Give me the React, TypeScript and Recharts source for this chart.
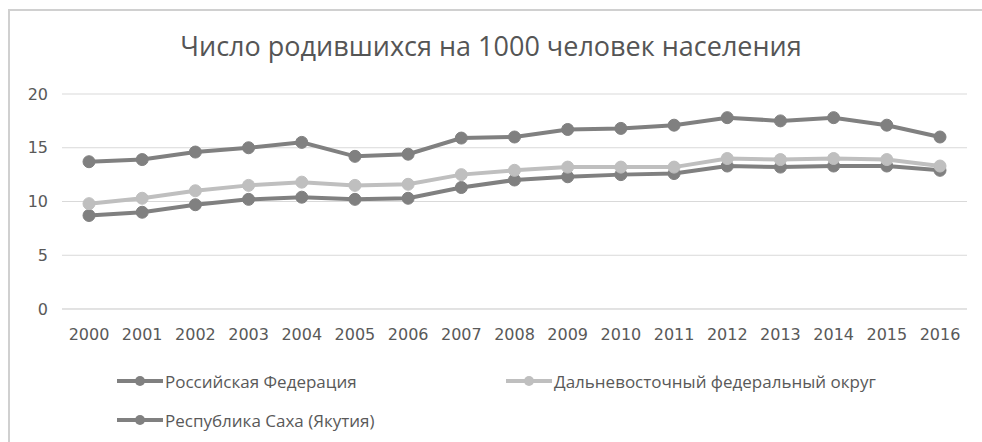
import React from 'react';
import { LineChart, Line, XAxis, YAxis, CartesianGrid } from 'recharts';

const years = ['2000', '2001', '2002', '2003', '2004', '2005', '2006', '2007', '2008', '2009', '2010', '2011', '2012', '2013', '2014', '2015', '2016'];
const russia = [8.7, 9.0, 9.7, 10.2, 10.4, 10.2, 10.3, 11.3, 12.0, 12.3, 12.5, 12.6, 13.3, 13.2, 13.3, 13.3, 12.9];
const farEast = [9.8, 10.3, 11.0, 11.5, 11.8, 11.5, 11.6, 12.5, 12.9, 13.2, 13.2, 13.2, 14.0, 13.9, 14.0, 13.9, 13.3];
const sakha = [13.7, 13.9, 14.6, 15.0, 15.5, 14.2, 14.4, 15.9, 16.0, 16.7, 16.8, 17.1, 17.8, 17.5, 17.8, 17.1, 16.0];
const yTicks = [0, 5, 10, 15, 20];

const data = years.map((year, i) => ({ year, russia: russia[i], farEast: farEast[i], sakha: sakha[i] }));

const DARK = '#808080';
const LIGHT = '#bfbfbf';
const TEXT = '#595959';

const series = [
  { key: 'russia', name: 'Российская Федерация', color: DARK },
  { key: 'farEast', name: 'Дальневосточный федеральный округ', color: LIGHT },
  { key: 'sakha', name: 'Республика Саха (Якутия)', color: DARK },
];

const LegendItem = ({ name, color, left, top }: { name: string; color: string; left: number; top: number }) => (
  <div style={{ position: 'absolute', left, top, display: 'flex', alignItems: 'center', height: 20 }}>
    <svg width={48} height={14}>
      <line x1={1} y1={7} x2={47} y2={7} stroke={color} strokeWidth={4} />
      <circle cx={24} cy={7} r={5} fill={color} />
    </svg>
    <span style={{ fontFamily: 'Open Sans, sans-serif', fontSize: 17, color: TEXT, marginLeft: 1, whiteSpace: 'nowrap' }}>{name}</span>
  </div>
);

export default function App() {
  return (
    <div style={{ position: 'absolute', left: 0, top: 0, width: 982, height: 442, background: '#fff', overflow: 'hidden' }}>
      <div style={{ position: 'absolute', left: 8, top: 9, right: -4, bottom: -4, borderLeft: '2px solid #d0d0d0', borderTop: '2px solid #d0d0d0' }} />
      <div
        style={{
          position: 'absolute',
          left: 0,
          width: 982,
          top: 27,
          textAlign: 'center',
          fontFamily: 'Open Sans, sans-serif',
          fontSize: 27,
          color: '#555',
          whiteSpace: 'nowrap',
        }}
      >
        Число родившихся на 1000 человек населения
      </div>
      <div style={{ position: 'absolute', left: 0, top: 0 }}>
        <LineChart width={982} height={442} data={data} margin={{ top: 94, right: 15, left: 0, bottom: 103 }}>
          <CartesianGrid vertical={false} stroke="#d9d9d9" strokeWidth={1} />
          <XAxis
            dataKey="year"
            axisLine={{ stroke: '#d9d9d9' }}
            tickLine={false}
            tickSize={0}
            tickMargin={20}
            height={30}
            interval={0}
            padding={{ left: 27, right: 27 }}
            tick={{ fill: TEXT, fontSize: 16, fontFamily: 'DejaVu Sans, sans-serif' }}
          />
          <YAxis
            domain={[0, 20]}
            ticks={yTicks}
            axisLine={false}
            tickLine={false}
            tickSize={0}
            tickMargin={14}
            width={62}
            tick={{ fill: TEXT, fontSize: 16, fontFamily: 'DejaVu Sans, sans-serif' }}
          />
          {series.map((s) => (
            <Line
              key={s.key}
              type="linear"
              dataKey={s.key}
              name={s.name}
              stroke={s.color}
              strokeWidth={4}
              dot={{ r: 6, fill: s.color, stroke: s.color, strokeWidth: 1 }}
              activeDot={false}
              isAnimationActive={false}
            />
          ))}
        </LineChart>
      </div>
      <LegendItem name={series[0].name} color={series[0].color} left={116} top={371} />
      <LegendItem name={series[1].name} color={series[1].color} left={505} top={371} />
      <LegendItem name={series[2].name} color={series[2].color} left={116} top={410} />
    </div>
  );
}
